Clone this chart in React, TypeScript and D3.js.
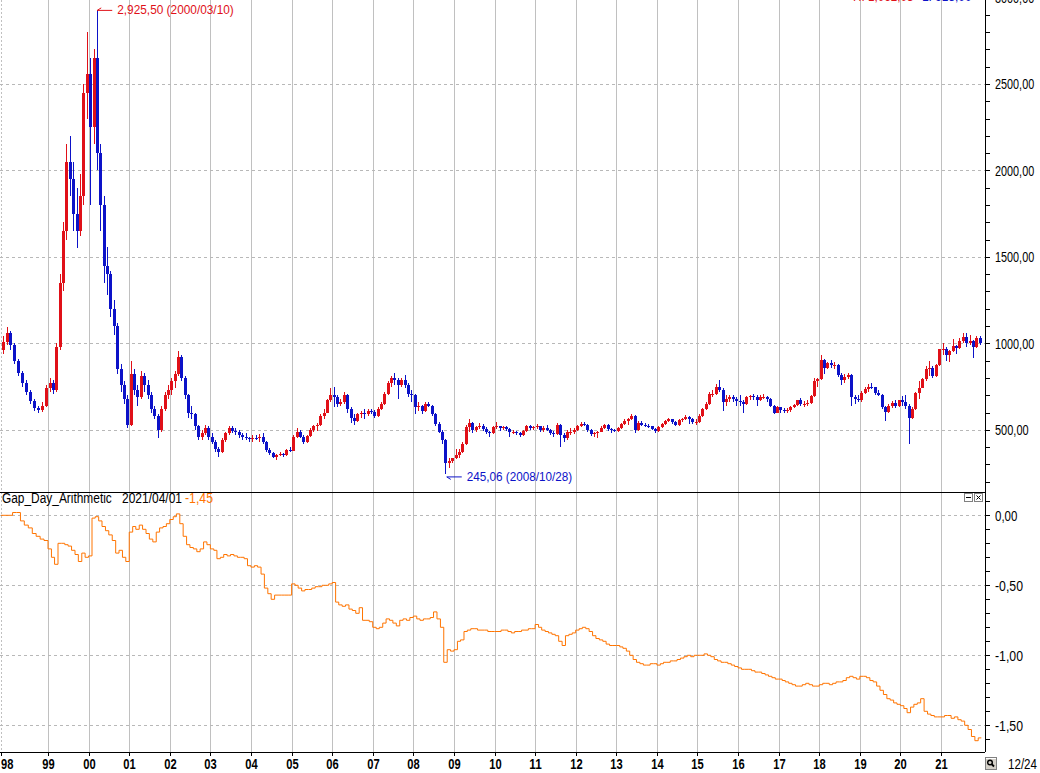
import * as d3 from 'd3';

// monthly candles, Jan 1998 .. Dec 2021 (one row per year)
const opens = [
  960, 1010, 1060, 990, 900, 830, 770, 720, 665, 625, 615, 640,
  740, 770, 730, 980, 1350, 1650, 2050, 1950, 1750, 1650, 1850, 2450,
  2560, 2250, 2650, 2100, 1800, 1450, 1400, 1200, 1100, 850, 760, 680,
  530, 820, 730, 690, 810, 760, 700, 620, 580, 500, 620, 700,
  730, 780, 820, 920, 800, 700, 600, 590, 520, 460, 480, 510,
  460, 430, 390, 370, 440, 480, 510, 495, 490, 470, 460, 450,
  445, 455, 450, 460, 430, 385, 365, 345, 355, 360, 355, 385,
  380, 460, 490, 460, 430, 465, 500, 520, 530, 580, 600, 670,
  700, 690, 650, 660, 700, 620, 570, 550, 590, 600, 590, 610,
  605, 580, 620, 650, 710, 770, 800, 790, 760, 790, 760, 710,
  700, 630, 640, 610, 650, 640, 590, 535, 490, 440, 310, 320,
  335, 355, 370, 420, 515, 540, 500, 515, 525, 505, 485, 480,
  515, 520, 510, 515, 505, 485, 490, 480, 470, 495, 520, 510,
  515, 520, 500, 510, 500, 480, 475, 530, 470, 450, 490, 490,
  500, 525, 535, 530, 500, 475, 480, 490, 510, 530, 505, 500,
  495, 510, 535, 550, 565, 580, 500, 540, 530, 525, 520, 505,
  495, 515, 535, 550, 560, 545, 530, 555, 565, 575, 560, 545,
  545, 580, 620, 650, 705, 710, 750, 730, 660, 680, 690, 680,
  665, 660, 650, 690, 695, 690, 670, 690, 690, 680, 640, 600,
  630, 615, 610, 615, 630, 645, 670, 650, 650, 655, 695, 780,
  795, 905, 860, 885, 875, 875, 815, 790, 805, 815, 690, 680,
  675, 715, 735, 750, 745, 715, 700, 630, 605, 635, 655, 635,
  670, 660, 640, 570, 620, 715, 740, 795, 850, 855, 810, 875,
  965, 965, 935, 955, 985, 975, 1015, 1035, 1005, 1015, 980, 1030,
];

const highs = [
  1040, 1095, 1070, 1000, 910, 840, 790, 730, 680, 640, 660, 760,
  800, 790, 1000, 1400, 1700, 2150, 2200, 2050, 1900, 1980, 2500, 2800,
  2650, 2700, 2925.5, 2150, 1850, 1560, 1420, 1250, 1120, 880, 780, 700,
  900, 850, 760, 840, 830, 790, 720, 640, 590, 640, 720, 760,
  800, 840, 955, 930, 810, 710, 640, 600, 530, 500, 530, 520,
  480, 440, 400, 450, 490, 525, 520, 510, 500, 480, 480, 460,
  470, 470, 475, 480, 435, 395, 370, 360, 370, 365, 390, 400,
  470, 510, 500, 470, 470, 510, 530, 540, 590, 620, 680, 740,
  745, 700, 680, 720, 710, 630, 590, 600, 610, 620, 620, 620,
  615, 630, 660, 720, 780, 810, 830, 800, 800, 815, 770, 730,
  705, 660, 645, 660, 660, 645, 600, 545, 500, 445, 340, 340,
  390, 390, 430, 530, 565, 545, 525, 540, 535, 515, 495, 520,
  545, 525, 525, 525, 510, 500, 495, 490, 500, 530, 530, 520,
  535, 525, 520, 530, 505, 495, 540, 535, 480, 500, 510, 510,
  530, 545, 545, 535, 505, 490, 495, 520, 535, 535, 510, 505,
  515, 540, 560, 570, 590, 585, 550, 550, 540, 535, 525, 510,
  525, 540, 555, 570, 565, 550, 560, 570, 585, 580, 570, 560,
  590, 625, 660, 720, 730, 765, 790, 740, 700, 700, 700, 690,
  700, 670, 695, 700, 705, 700, 700, 710, 695, 685, 645, 635,
  630, 625, 625, 640, 650, 675, 685, 665, 670, 700, 800, 800,
  930, 910, 895, 905, 890, 880, 830, 825, 830, 820, 700, 700,
  725, 745, 765, 770, 750, 730, 705, 640, 650, 665, 670, 675,
  695, 700, 650, 630, 720, 780, 800, 870, 900, 870, 880, 970,
  1000, 980, 960, 1025, 990, 1030, 1060, 1062, 1050, 1020, 1040, 1045,
];

const lows = [
  940, 990, 960, 880, 810, 750, 700, 650, 610, 600, 605, 630,
  720, 710, 720, 960, 1300, 1600, 1850, 1650, 1550, 1620, 1800, 2300,
  1800, 2150, 2000, 1650, 1350, 1280, 1150, 1050, 820, 720, 650, 510,
  520, 700, 640, 680, 720, 680, 600, 560, 450, 490, 610, 680,
  700, 740, 810, 780, 680, 570, 560, 500, 440, 440, 470, 440,
  420, 370, 345, 365, 430, 470, 480, 470, 450, 440, 440, 430,
  430, 440, 430, 420, 370, 355, 335, 325, 350, 345, 350, 370,
  378, 455, 450, 420, 425, 460, 490, 495, 525, 560, 595, 660,
  630, 630, 640, 650, 600, 540, 530, 545, 570, 565, 580, 590,
  570, 575, 615, 645, 700, 750, 760, 680, 745, 740, 690, 660,
  590, 610, 590, 605, 630, 580, 520, 480, 420, 245.06, 280, 310,
  330, 340, 365, 415, 490, 480, 490, 505, 495, 475, 460, 475,
  505, 495, 500, 495, 460, 475, 470, 460, 465, 490, 500, 500,
  505, 490, 490, 495, 470, 460, 470, 400, 430, 440, 470, 475,
  495, 515, 520, 490, 465, 460, 455, 485, 505, 495, 480, 485,
  490, 505, 530, 530, 555, 480, 495, 520, 515, 510, 500, 480,
  490, 510, 530, 545, 535, 525, 525, 545, 555, 535, 535, 530,
  540, 575, 615, 645, 690, 700, 720, 610, 640, 660, 660, 640,
  640, 595, 645, 675, 675, 640, 665, 680, 660, 630, 590, 595,
  600, 600, 600, 605, 625, 640, 640, 630, 640, 650, 690, 745,
  790, 820, 850, 855, 850, 805, 760, 770, 795, 640, 650, 660,
  660, 710, 720, 735, 700, 695, 620, 550, 600, 625, 625, 630,
  640, 620, 420, 560, 615, 680, 740, 780, 810, 800, 805, 870,
  930, 900, 895, 950, 940, 970, 1000, 980, 990, 915, 975, 990,
];

const closes = [
  1010, 1060, 990, 900, 830, 770, 720, 665, 625, 615, 640, 740,
  770, 730, 980, 1350, 1650, 2050, 1950, 1750, 1650, 1850, 2450, 2560,
  2250, 2650, 2100, 1800, 1450, 1400, 1200, 1100, 850, 760, 680, 530,
  820, 730, 690, 810, 760, 700, 620, 580, 500, 620, 700, 730,
  780, 820, 920, 800, 700, 600, 590, 520, 460, 480, 510, 460,
  430, 390, 370, 440, 480, 510, 495, 490, 470, 460, 450, 445,
  455, 450, 460, 430, 385, 365, 345, 355, 360, 355, 385, 380,
  460, 490, 460, 430, 465, 500, 520, 530, 580, 600, 670, 700,
  690, 650, 660, 700, 620, 570, 550, 590, 600, 590, 610, 605,
  580, 620, 650, 710, 770, 800, 790, 760, 790, 760, 710, 700,
  630, 640, 610, 650, 640, 590, 535, 490, 440, 310, 320, 335,
  355, 370, 420, 515, 540, 500, 515, 525, 505, 485, 480, 515,
  520, 510, 515, 505, 485, 490, 480, 470, 495, 520, 510, 515,
  520, 500, 510, 500, 480, 475, 530, 470, 450, 490, 490, 500,
  525, 535, 530, 500, 475, 480, 490, 510, 530, 505, 500, 495,
  510, 535, 550, 565, 580, 500, 540, 530, 525, 520, 505, 495,
  515, 535, 550, 560, 545, 530, 555, 565, 575, 560, 545, 545,
  580, 620, 650, 705, 710, 750, 730, 660, 680, 690, 680, 665,
  660, 650, 690, 695, 690, 670, 690, 690, 680, 640, 600, 630,
  615, 610, 615, 630, 645, 670, 650, 650, 655, 695, 780, 795,
  905, 860, 885, 875, 875, 815, 790, 805, 815, 690, 680, 675,
  715, 735, 750, 745, 715, 700, 630, 605, 635, 655, 635, 670,
  660, 640, 570, 620, 715, 740, 795, 850, 855, 810, 875, 965,
  965, 935, 955, 985, 975, 1015, 1035, 1005, 1015, 980, 1030, 1000,
];

// Gap_Day_Arithmetic, monthly
const gapValues = [
  0, 0, 0, 0.02, 0.02, -0.04, -0.07, -0.09, -0.13, -0.15, -0.17, -0.18,
  -0.24, -0.3, -0.35, -0.2, -0.2, -0.21, -0.22, -0.25, -0.28, -0.33, -0.27, -0.3,
  -0.29, -0.02, -0.01, -0.04, -0.08, -0.11, -0.14, -0.18, -0.27, -0.25, -0.3, -0.33,
  -0.12, -0.08, -0.1, -0.07, -0.1, -0.13, -0.17, -0.19, -0.12, -0.09, -0.08, -0.06,
  -0.03, -0.01, 0.01, -0.06, -0.15, -0.21, -0.23, -0.24, -0.26, -0.24, -0.19, -0.21,
  -0.24, -0.25, -0.31, -0.3, -0.28, -0.29, -0.28, -0.29, -0.3, -0.3, -0.31, -0.36,
  -0.37, -0.36, -0.37, -0.42, -0.52, -0.56, -0.6, -0.57, -0.57, -0.57, -0.57, -0.57,
  -0.49, -0.5, -0.52, -0.54, -0.53, -0.53, -0.52, -0.51, -0.51, -0.5, -0.5, -0.49,
  -0.48, -0.62, -0.64, -0.65, -0.64, -0.67, -0.68, -0.7, -0.66, -0.75, -0.75, -0.76,
  -0.8, -0.81, -0.8, -0.77, -0.74, -0.75, -0.77, -0.79, -0.75, -0.74, -0.75, -0.73,
  -0.72, -0.74, -0.75, -0.74, -0.74, -0.73, -0.69, -0.74, -0.8, -1.05, -0.96, -0.97,
  -0.96, -0.9, -0.89, -0.83, -0.82, -0.81, -0.81, -0.82, -0.82, -0.82, -0.83, -0.83,
  -0.83, -0.83, -0.82, -0.82, -0.83, -0.84, -0.83, -0.83, -0.82, -0.82, -0.81, -0.81,
  -0.78, -0.8, -0.82, -0.83, -0.84, -0.85, -0.86, -0.9, -0.93, -0.86, -0.85, -0.84,
  -0.82, -0.81, -0.8, -0.81, -0.83, -0.86, -0.88, -0.89, -0.9, -0.92, -0.93, -0.93,
  -0.93, -0.94, -0.95, -0.97, -1.0, -1.03, -1.05, -1.06, -1.07, -1.07, -1.06, -1.06,
  -1.07, -1.06, -1.05, -1.05, -1.04, -1.04, -1.03, -1.02, -1.01, -1.0, -1.01, -1.0,
  -1.0, -1.0, -0.99, -1.0, -1.01, -1.03, -1.04, -1.05, -1.05, -1.06, -1.07, -1.08,
  -1.09, -1.1, -1.1, -1.1, -1.11, -1.12, -1.12, -1.13, -1.14, -1.15, -1.16, -1.17,
  -1.17, -1.18, -1.19, -1.2, -1.21, -1.22, -1.22, -1.21, -1.2, -1.21, -1.22, -1.22,
  -1.21, -1.2, -1.2, -1.21, -1.2, -1.19, -1.19, -1.18, -1.16, -1.15, -1.16, -1.17,
  -1.15, -1.15, -1.16, -1.18, -1.19, -1.22, -1.25, -1.28, -1.31, -1.32, -1.34, -1.35,
  -1.36, -1.38, -1.41, -1.37, -1.35, -1.34, -1.31, -1.4, -1.42, -1.43, -1.44, -1.44,
  -1.44, -1.43, -1.43, -1.45, -1.44, -1.46, -1.47, -1.5, -1.53, -1.58, -1.61, -1.59,
];

const yearLabels = ['98', '99', '00', '01', '02', '03', '04', '05', '06', '07', '08', '09',
  '10', '11', '12', '13', '14', '15', '16', '17', '18', '19', '20', '21'];
const priceTicks = [500, 1000, 1500, 2000, 2500, 3000];
const gapTicks = [0, -0.5, -1, -1.5];

const peakLabel = '2,925,50 (2000/03/10)';
const lowLabel = '245,06 (2008/10/28)';

const W = 1040;
const H = 773;
const right = 985;
const split = 492;
const bottom = 752;
const FONT = "'Liberation Sans', Arial, sans-serif";
const RED = '#e01018';
const BLUE = '#0c12c8';
const ORANGE = '#ff7400';
const GRID = '#c0c0c0';

const x = d3.scaleTime()
  .domain([new Date(1998, 0, 1), new Date(1999, 0, 1), new Date(2022, 0, 31)])
  .range([1, 48, right]);
const yP = d3.scaleLinear().domain([0, 3000]).range([516.3, -2.5]);
const yG = d3.scaleLinear().domain([0, -1.5]).range([515.3, 725.3]);

const fmt = (v: number) => v.toFixed(2).replace('.', ',');
const monthStart = (i: number) => new Date(1998 + Math.floor(i / 12), i % 12, 1);
const monthMid = (i: number) => new Date(1998 + Math.floor(i / 12), i % 12, 15);

// narrow bitmap-like text: squeeze glyphs to a fixed advance per character
const Narrow = ({ s, adv, ...rest }: { s: string; adv: number; [k: string]: any }) => (
  <text {...rest} textLength={s.length * adv} lengthAdjust='spacingAndGlyphs'>{s}</text>
);

const App = () => {
  const yearX = yearLabels.map((_, i) => (i === 0 ? 1 : Math.round(x(new Date(1998 + i, 0, 1)))));

  const gapPoints: [number, number][] = gapValues.map((v, i) => [x(monthStart(i)), yG(v)]);
  gapPoints.push([x(new Date(2021, 11, 29)), yG(gapValues[gapValues.length - 1])]);
  const gapLine = d3.line().curve(d3.curveStepAfter)(gapPoints) ?? undefined;

  const priceMinor = d3.range(200, 3001, 100).filter((v) => yP(v) > 0 && yP(v) < split);
  const gapMinor = d3.range(1, -17, -1).map((v) => v / 10).filter((v) => yG(v) > split && yG(v) < bottom);

  const peakX = x(new Date(2000, 2, 10));
  const peakY = yP(2925.5);
  const lowX = x(new Date(2008, 9, 28));
  const lowY = yP(245.06) + 3;

  const aprIdx = (2021 - 1998) * 12 + 3;

  return (
    <div style={{ position: 'absolute', left: 0, top: 0, width: W, height: H }}>
      <svg width={W} height={H} viewBox={`0 0 ${W} ${H}`} style={{ display: 'block', background: '#fff' }}>
        <defs>
          <clipPath id='upper'>
            <rect x={0} y={0} width={right} height={split} />
          </clipPath>
          <clipPath id='lower'>
            <rect x={0} y={split + 1} width={right} height={bottom - split - 1} />
          </clipPath>
        </defs>

        {/* grid */}
        <g shapeRendering='crispEdges'>
          {yearX.slice(1).map((gx, i) => (
            <line key={i} x1={gx + 0.5} x2={gx + 0.5} y1={0} y2={bottom} stroke={GRID} />
          ))}
          <line x1={1.5} x2={1.5} y1={0} y2={bottom} stroke={GRID} strokeDasharray='2,2' />
          {priceTicks.map((v) => (
            <line key={v} x1={0} x2={right} y1={Math.round(yP(v)) + 0.5} y2={Math.round(yP(v)) + 0.5}
              stroke='#b8b8b8' strokeDasharray='3,3' />
          ))}
          {gapTicks.map((v) => (
            <line key={v} x1={0} x2={right} y1={Math.round(yG(v)) + 0.5} y2={Math.round(yG(v)) + 0.5}
              stroke='#b8b8b8' strokeDasharray='3,3' />
          ))}
        </g>

        {/* candles */}
        <g clipPath='url(#upper)' shapeRendering='crispEdges'>
          {closes.map((c, i) => {
            const o = opens[i];
            const cx = Math.round(x(monthMid(i)));
            const col = c >= o ? RED : BLUE;
            const top = Math.round(yP(Math.max(o, c)));
            const h = Math.max(1, Math.round(yP(Math.min(o, c))) - top);
            return (
              <g key={i}>
                <line x1={cx + 0.5} x2={cx + 0.5} y1={yP(highs[i])} y2={yP(lows[i])} stroke={col} />
                <rect x={cx - 1} y={top} width={3} height={h} fill={col} />
              </g>
            );
          })}
        </g>

        {/* gap line */}
        <g clipPath='url(#lower)'>
          <path d={gapLine} fill='none' stroke={ORANGE} strokeWidth={1} />
        </g>

        {/* annotations */}
        <g fontFamily={FONT} fontSize={13}>
          <path d={`M${peakX + 1},${peakY} h15 M${peakX + 1},${peakY} l4,-2.5`} stroke={RED} fill='none' />
          <Narrow s={peakLabel} adv={5.55} x={peakX + 21} y={peakY + 4} fill={RED} />
          <path d={`M${lowX},${lowY} h15 M${lowX},${lowY} l4,2.5`} stroke={BLUE} fill='none' />
          <Narrow s={lowLabel} adv={5.55} x={lowX + 20} y={lowY + 4} fill={BLUE} />
          <Narrow s='H: 1,062,03' adv={5.5} x={853} y={1} fill={RED} />
          <Narrow s='L: 915,00' adv={5.5} x={922} y={1} fill={BLUE} />
        </g>

        {/* panel frame and axes */}
        <g shapeRendering='crispEdges' stroke='#000'>
          <line x1={0} x2={right} y1={split + 0.5} y2={split + 0.5} />
          <line x1={0} x2={right} y1={bottom + 0.5} y2={bottom + 0.5} />
          <line x1={right + 0.5} x2={right + 0.5} y1={0} y2={bottom} />
          {priceMinor.map((v) => (
            <line key={v} x1={right} x2={right + 5} y1={Math.round(yP(v)) + 0.5} y2={Math.round(yP(v)) + 0.5} />
          ))}
          {gapMinor.map((v) => (
            <line key={v} x1={right} x2={right + 5} y1={Math.round(yG(v)) + 0.5} y2={Math.round(yG(v)) + 0.5} />
          ))}
          {yearX.map((gx, i) => (
            <line key={i} x1={gx + 0.5} x2={gx + 0.5} y1={bottom} y2={bottom + 4} />
          ))}
        </g>

        <g fontFamily={FONT} fontSize={15} fill='#000'>
          {priceTicks.map((v) => (
            <Narrow key={v} s={fmt(v)} adv={5.6} x={995} y={yP(v)} dy='0.36em' />
          ))}
          {gapTicks.map((v) => (
            <Narrow key={v} s={fmt(v)} adv={5.6} x={995} y={yG(v)} dy='0.36em' />
          ))}
        </g>

        <g fontFamily={FONT} fontSize={14} fontWeight='bold' fill='#000'>
          {yearLabels.map((lab, i) => (
            <Narrow key={lab} s={lab} adv={6.2} x={i === 0 ? yearX[i] : yearX[i] - 5.7} y={769} />
          ))}
        </g>

        {/* lower panel title */}
        <g fontFamily={FONT} fontSize={14}>
          <Narrow s='Gap_Day_Arithmetic' adv={6.1} x={2} y={503} fill='#000' />
          <Narrow s='2021/04/01' adv={6.0} x={122} y={503} fill='#000' />
          <Narrow s={fmt(gapValues[aprIdx])} adv={5.6} x={185} y={503} fill={ORANGE} />
        </g>

        {/* panel buttons */}
        <g shapeRendering='crispEdges'>
          <rect x={964.5} y={493.5} width={8} height={8} fill='#fff' stroke='#808080' />
          <line x1={966} x2={971} y1={497.5} y2={497.5} stroke='#000' />
          <rect x={974.5} y={493.5} width={8} height={8} fill='#fff' stroke='#808080' />
        </g>
        <path d='M976.5,495.5 l4,4 M980.5,495.5 l-4,4' stroke='#000' />

        {/* zoom button and page text */}
        <g shapeRendering='crispEdges'>
          <rect x={985.5} y={757.5} width={11} height={12} fill='#d4d0c8' stroke='#808080' />
          <line x1={986} x2={996} y1={758.5} y2={758.5} stroke='#fff' />
        </g>
        <circle cx={990} cy={762.5} r={2.3} fill='none' stroke='#000' strokeWidth={1.4} />
        <line x1={991.5} y1={764} x2={994} y2={766.5} stroke='#000' strokeWidth={1.8} />
        <g fontFamily={FONT} fontSize={14}>
          <Narrow s='12/24' adv={5.8} x={1008} y={769} fill='#000' />
        </g>
      </svg>
    </div>
  );
};

export default App;
